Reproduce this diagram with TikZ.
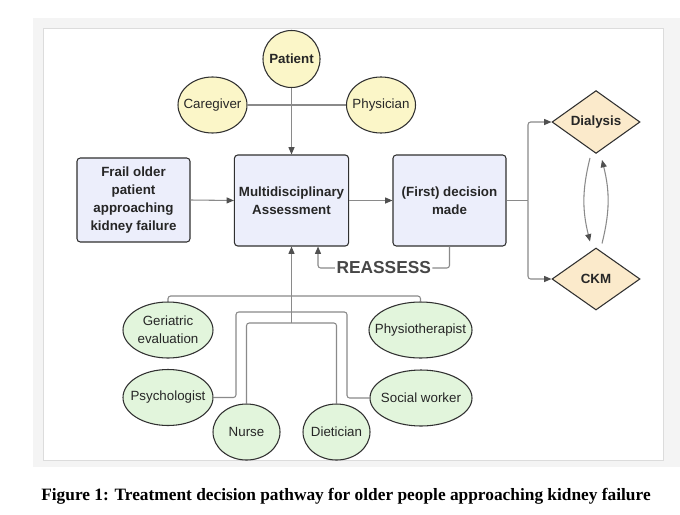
\documentclass[tikz,border=0pt]{standalone}
\usepackage{fontspec}
\setmainfont{Liberation Serif}
\setsansfont{Liberation Sans}
\usetikzlibrary{shapes.geometric,arrows.meta,calc}
\definecolor{boxblue}{HTML}{ECEEFB}
\definecolor{softyellow}{HTML}{FBF6C8}
\definecolor{softorange}{HTML}{FBEACB}
\definecolor{softgreen}{HTML}{E2F5DC}
\definecolor{linegray}{HTML}{8A8A8A}
\definecolor{tipgray}{HTML}{505050}
\definecolor{edgedark}{HTML}{303030}
\definecolor{framegray}{HTML}{DCDCDC}
\definecolor{shadegray}{HTML}{F4F4F4}

\tikzset{
    base/.style={draw=edgedark, line width=0.8pt, font=\sffamily\fontsize{10}{13.5}\selectfont, align=center, text=black!85},
    stepbox/.style={base, rectangle, rounded corners=2.5pt, fill=boxblue, font=\sffamily\bfseries\fontsize{10}{13.5}\selectfont, minimum width=84.75pt},
    person/.style={base, ellipse, fill=softyellow, inner xsep=-7pt, inner ysep=0pt, minimum width=51.75pt, minimum height=42pt},
    staff/.style={base, ellipse, fill=softgreen, inner xsep=-7pt, inner ysep=0pt, minimum height=42pt},
    option/.style={base, diamond, fill=softorange, font=\sffamily\bfseries\fontsize{10}{13.5}\selectfont, inner sep=0pt, minimum width=66pt, minimum height=46.5pt},
    link/.style={draw=linegray, line width=0.8pt, rounded corners=2pt},
    arrow/.style={link, -{Triangle[length=5.5pt, width=4.5pt, color=tipgray]}}
}

\begin{document}
\begin{tikzpicture}[x=0.75pt, y=-0.75pt]
    \useasboundingbox (0,0) rectangle (680,514);
    \fill[shadegray] (33,18) rectangle (680,467);
    \filldraw[fill=white, draw=framegray, line width=0.6pt] (43,28) rectangle (663,460);

    \node[person, font=\sffamily\bfseries\fontsize{10}{13.5}\selectfont, circle, inner sep=0pt, minimum size=42.75pt] (patient) at (291.5,59) {Patient};
    \node[person] (caregiver) at (212.5,105) {Caregiver};
    \node[person] (physician) at (381,105) {Physician};

    \node[stepbox, minimum height=63pt] (frail) at (133.5,200) {Frail older\\patient\\approaching\\kidney failure};
    \node[stepbox, minimum height=68.25pt] (multi) at (291.5,200.5) {Multidisciplinary\\Assessment};
    \node[stepbox, minimum height=68.25pt] (decision) at (449.5,200.5) {(First) decision\\made};

    \node[option] (dialysis) at (596,122) {Dialysis};
    \node[option] (ckm) at (596,279) {CKM};

    \node[staff, minimum width=67.5pt] (geriatric) at (168,330) {Geriatric\\evaluation};
    \node[staff, minimum width=77.25pt] (physio) at (420.5,330) {Physiotherapist};
    \node[staff, minimum width=67.5pt] (psych) at (168,397.5) {Psychologist};
    \node[staff, minimum width=76.5pt] (social) at (421,398) {Social worker};
    \node[staff, minimum width=50.25pt] (nurse) at (246.5,432) {Nurse};
    \node[staff, minimum width=50.25pt] (dietician) at (336.5,432) {Dietician};

    \coordinate (hubA) at (291.5,296);
    \coordinate (hubC) at (291.5,323);
    \coordinate (busL) at (236,312);
    \coordinate (busR) at (347,312);
    \coordinate (split) at (528,200.5);
    \coordinate (back) at (318,268);

    \draw[link] (caregiver.east) -- (physician.west);
    \draw[arrow] (patient.south) -- (multi.north);
    \draw[arrow] (frail.east) -- (multi.west);
    \draw[arrow] (multi.east) -- (decision.west);

    \draw[arrow] (decision.south) |- node[pos=0.75, fill=white, inner xsep=1pt, inner ysep=0pt, font=\sffamily\bfseries\fontsize{13}{13}\selectfont, text=black!72] {REASSESS} (back) -- (back |- multi.south);

    \draw[link] (decision.east) -- (split);
    \draw[arrow] (split) |- (dialysis.west);
    \draw[arrow] (split) |- (ckm.west);
    \draw[arrow, rounded corners=0pt] ($(dialysis.south)+(-6,4)$) to[bend right=14] ($(ckm.north)+(-6,-6)$);
    \draw[arrow, rounded corners=0pt] ($(ckm.north)+(6,-4)$) to[bend right=14] ($(dialysis.south)+(6,6)$);

    \draw[link] (geriatric.north) |- (hubA) -| (physio.north);
    \draw[link] (psych.east) -| (busL) -- (busR) |- (social.west);
    \draw[link] (nurse.north) |- (hubC) -| (dietician.north);
    \draw[arrow] (hubC) -- (multi.south);

    \node[font=\bfseries\fontsize{13}{15}\selectfont] (caption) at (346,496) {Figure 1: Treatment decision pathway for older people approaching kidney failure};
\end{tikzpicture}
\end{document}
